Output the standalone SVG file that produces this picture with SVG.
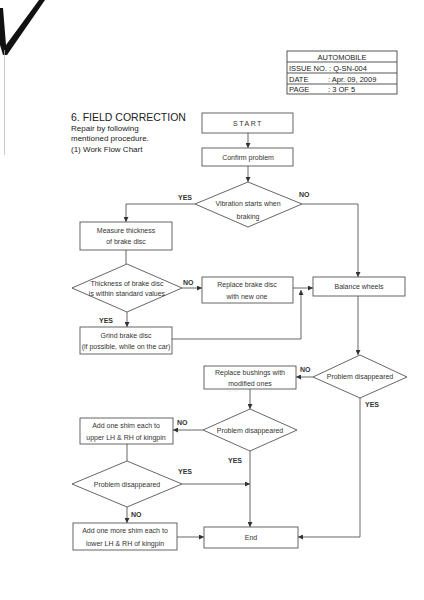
<svg xmlns="http://www.w3.org/2000/svg" width="424" height="600" viewBox="0 0 424 600">
<defs>
<marker id="ah" viewBox="0 0 6 6" refX="6" refY="3" markerWidth="5" markerHeight="5" orient="auto" markerUnits="userSpaceOnUse">
<path d="M0,0 L6,3 L0,6 z" fill="#333"/>
</marker>
<style>
.box{fill:#fff;stroke:#555;stroke-width:0.9}
.t{font-family:"Liberation Sans",Arial,sans-serif;font-size:7px;fill:#333;text-anchor:middle}
.l{font-family:"Liberation Sans",Arial,sans-serif;font-size:7px;font-weight:bold;fill:#333}
.h{font-family:"Liberation Sans",Arial,sans-serif;font-size:7.5px;fill:#222}
.c{fill:none;stroke:#555;stroke-width:0.9}
.ca{fill:none;stroke:#555;stroke-width:0.9;marker-end:url(#ah)}
</style>
</defs>
<rect width="424" height="600" fill="#fff"/>
<!-- scan marks -->
<polygon points="0,8 3,8 6,45 39,0 45,0 7,55 3,55 0,45" fill="#111"/>
<line x1="4.5" y1="50" x2="4.5" y2="155" stroke="#bbb" stroke-width="0.8"/>
<!-- header table -->
<g id="header">
<rect x="287" y="51" width="110" height="43" fill="#fff" stroke="#444" stroke-width="0.9"/>
<line x1="287" y1="62" x2="397" y2="62" stroke="#444" stroke-width="0.9"/>
<line x1="287" y1="73" x2="397" y2="73" stroke="#444" stroke-width="0.9"/>
<line x1="287" y1="84" x2="397" y2="84" stroke="#444" stroke-width="0.9"/>
<text class="h" x="342" y="59.5" text-anchor="middle">AUTOMOBILE</text>
<text class="h" x="289" y="70.5">ISSUE NO. : Q-SN-004</text>
<text class="h" x="289" y="81.5">DATE</text>
<text class="h" x="328" y="81.5">: Apr. 09, 2009</text>
<text class="h" x="289" y="92">PAGE</text>
<text class="h" x="328" y="92">: 3 OF 5</text>
</g>
<!-- title -->
<g id="title" font-family="Liberation Sans,Arial,sans-serif" fill="#222">
<text x="71" y="121" font-size="10.5">6. FIELD CORRECTION</text>
<text x="71" y="131" font-size="8">Repair by following</text>
<text x="71" y="141" font-size="8">mentioned procedure.</text>
<text x="71" y="151.5" font-size="8">(1) Work Flow Chart</text>
</g>
<!-- connectors -->
<g id="connectors">
<line class="ca" x1="248" y1="133" x2="248" y2="148"/>
<line class="ca" x1="248" y1="166" x2="248" y2="182"/>
<polyline class="ca" points="195,204 126,204 126,222"/>
<polyline class="ca" points="302,204 358,204 358,277"/>
<line class="c" x1="126" y1="250" x2="126" y2="264"/>
<line class="ca" x1="182" y1="288" x2="202" y2="288"/>
<line class="ca" x1="293" y1="288" x2="313" y2="288"/>
<polyline class="ca" points="172,339 301,339 301,290"/>
<line class="ca" x1="127" y1="312" x2="127" y2="327"/>
<line class="ca" x1="358" y1="296" x2="358" y2="355"/>
<line class="ca" x1="313" y1="377" x2="296" y2="377"/>
<line class="ca" x1="250" y1="389" x2="250" y2="409"/>
<line class="ca" x1="203" y1="430" x2="173" y2="430"/>
<line class="c" x1="127" y1="444" x2="127" y2="461"/>
<line class="ca" x1="250" y1="451" x2="250" y2="527"/>
<line class="ca" x1="182" y1="484" x2="250" y2="484"/>
<line class="ca" x1="127" y1="507" x2="127" y2="523"/>
<line class="ca" x1="177" y1="537" x2="204" y2="537"/>
<polyline class="ca" points="360,397 360,537 298,537"/>
</g>
<!-- labels -->
<g id="labels">
<text class="l" x="178" y="200">YES</text>
<text class="l" x="299" y="197">NO</text>
<text class="l" x="183" y="285">NO</text>
<text class="l" x="99" y="323">YES</text>
<text class="l" x="300" y="372">NO</text>
<text class="l" x="365" y="407">YES</text>
<text class="l" x="177" y="425">NO</text>
<text class="l" x="228" y="463">YES</text>
<text class="l" x="178" y="474">YES</text>
<text class="l" x="131" y="517">NO</text>
</g>
<!-- nodes -->
<g id="start">
<rect class="box" x="202" y="113" width="91" height="20"/>
<text class="t" x="248" y="126" font-size="8" letter-spacing="1.5">START</text>
</g>
<g id="confirm">
<rect class="box" x="202" y="148" width="91" height="18"/>
<text class="t" x="248" y="159.5">Confirm problem</text>
</g>
<g id="vibration">
<polygon class="box" points="248,182 302,204 248,227 195,204"/>
<text class="t" x="248" y="206">Vibration starts when</text>
<text class="t" x="248" y="219">braking</text>
</g>
<g id="measure">
<rect class="box" x="80" y="222" width="92" height="28"/>
<text class="t" x="126" y="233">Measure thickness</text>
<text class="t" x="126" y="244">of brake disc</text>
</g>
<g id="thickness">
<polygon class="box" points="127,264 182,288 127,312 72,288"/>
<text class="t" x="127" y="286">Thickness of brake disc</text>
<text class="t" x="127" y="296">is within standard values</text>
</g>
<g id="replace-disc">
<rect class="box" x="202" y="277" width="91" height="26"/>
<text class="t" x="247" y="287">Replace brake disc</text>
<text class="t" x="247" y="299">with new one</text>
</g>
<g id="balance">
<rect class="box" x="313" y="277" width="92" height="19"/>
<text class="t" x="359" y="289">Balance wheels</text>
</g>
<g id="grind">
<rect class="box" x="80" y="327" width="92" height="27"/>
<text class="t" x="126" y="337.5">Grind brake disc</text>
<text class="t" x="126" y="349" font-size="6.3">(if possible, while on the car)</text>
</g>
<g id="problem1">
<polygon class="box" points="360,355 407,377 360,398 313,377"/>
<text class="t" x="360" y="379">Problem disappeared</text>
</g>
<g id="bushings">
<rect class="box" x="204" y="366" width="92" height="23"/>
<text class="t" x="250" y="375">Replace bushings with</text>
<text class="t" x="250" y="386">modified ones</text>
</g>
<g id="problem2">
<polygon class="box" points="250,409 297,430 250,451 203,430"/>
<text class="t" x="250" y="432.5">Problem disappeared</text>
</g>
<g id="shim-upper">
<rect class="box" x="80" y="418" width="93" height="26"/>
<text class="t" x="126" y="428">Add one shim each to</text>
<text class="t" x="126" y="440">upper LH &amp; RH of kingpin</text>
</g>
<g id="problem3">
<polygon class="box" points="127,461 182,484 127,507 72,484"/>
<text class="t" x="127" y="486.5">Problem disappeared</text>
</g>
<g id="shim-lower">
<rect class="box" x="73" y="523" width="104" height="27"/>
<text class="t" x="125" y="533">Add one more shim each    to</text>
<text class="t" x="125" y="546">lower LH &amp; RH of kingpin</text>
</g>
<g id="end">
<rect class="box" x="204" y="527" width="94" height="21"/>
<text class="t" x="251" y="540">End</text>
</g>
</svg>
